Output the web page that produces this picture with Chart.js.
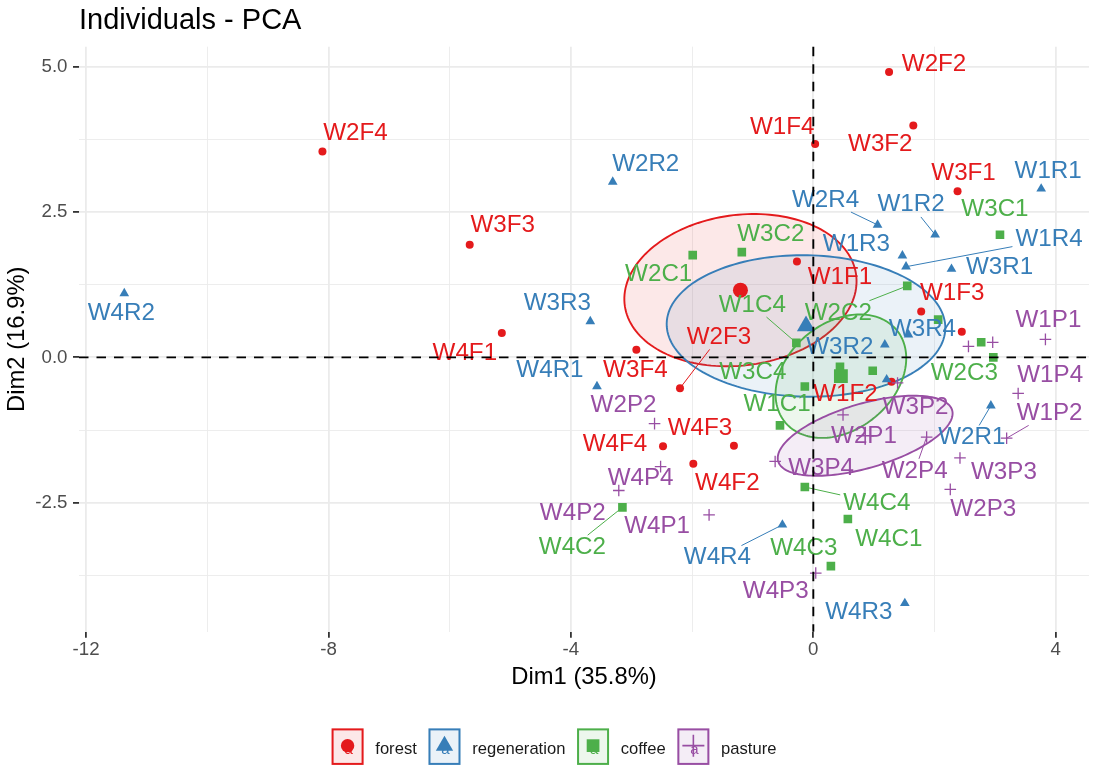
<!DOCTYPE html>
<html>
<head>
<meta charset="utf-8">
<title>Individuals - PCA</title>
<script src="https://cdn.jsdelivr.net/npm/chart.js@4.4.1/dist/chart.umd.min.js"></script>
<style>
  html, body { margin: 0; padding: 0; background: #fff; }
  canvas { display: block; }
</style>
</head>
<body>
<canvas id="pcaChart" width="1095" height="766"></canvas>
<script>
// ---- data ----
const groups = ['forest', 'regeneration', 'coffee', 'pasture'];
const groupColors = ['#E41A1C', '#377EB8', '#4DAF4A', '#984EA3'];

const forestNames = ['W2F4', 'W3F3', 'W2F2', 'W3F2', 'W1F4', 'W3F1', 'W1F1', 'W1F3', 'W2F1', 'W1F2', 'W4F1', 'W3F4', 'W2F3', 'W4F4', 'W4F3', 'W4F2'];
const forestX = [-8.10, -5.67, 1.25, 1.65, 0.03, 2.38, -0.27, 1.78, 2.45, 1.29, -5.14, -2.92, -2.20, -2.48, -1.31, -1.98];
const forestY = [3.54, 1.94, 4.91, 3.99, 3.67, 2.86, 1.65, 0.79, 0.44, -0.42, 0.42, 0.13, -0.53, -1.53, -1.52, -1.83];

const regenNames = ['W4R2', 'W2R2', 'W1R1', 'W2R4', 'W1R2', 'W1R4', 'W1R3', 'W3R1', 'W3R4', 'W3R2', 'W2R3', 'W2R1', 'W3R3', 'W4R1', 'W4R4', 'W4R3'];
const regenX = [-11.37, -3.31, 3.76, 1.06, 2.01, 1.53, 1.47, 2.28, 1.57, 1.18, 1.21, 2.93, -3.68, -3.57, -0.51, 1.51];
const regenY = [1.10, 3.02, 2.90, 2.28, 2.11, 1.56, 1.75, 1.52, 0.39, 0.22, -0.38, -0.83, 0.62, -0.50, -2.88, -4.23];

const coffeeNames = ['W3C1', 'W2C1', 'W3C2', 'W2C2', 'W2C4', 'W3C3', 'W2C3', 'W1C4', 'W1C2', 'W1C3', 'W3C4', 'W1C1', 'W4C4', 'W4C1', 'W4C3', 'W4C2'];
const coffeeX = [3.08, -1.99, -1.18, 1.55, 2.06, 2.77, 2.97, -0.28, 0.44, 0.98, -0.14, -0.55, -0.14, 0.57, 0.29, -3.15];
const coffeeY = [2.11, 1.76, 1.81, 1.23, 0.65, 0.26, 0.00, 0.25, -0.16, -0.23, -0.50, -1.17, -2.23, -2.78, -3.59, -2.58];

const pastureNames = ['W1P1', 'W1P3', 'W3P1', 'W1P4', 'W1P2', 'W2P4', 'W3P3', 'W2P3', 'W3P2', 'W2P1', 'W3P4', 'W2P2', 'W4P4', 'W4P2', 'W4P1', 'W4P3'];
const pastureX = [3.83, 2.56, 2.96, 3.38, 3.19, 1.87, 2.42, 2.26, 1.39, 0.49, -0.63, -2.62, -2.52, -3.21, -1.72, 0.04];
const pastureY = [0.31, 0.19, 0.26, -0.62, -1.39, -1.37, -1.73, -2.27, -0.44, -0.99, -1.79, -1.14, -1.88, -2.29, -2.71, -3.71];

// where ggrepel put each label, in px from its point (null = label dropped)
const forestLabelOffset = [[33, -18], [33, -19], [45, -8], [-33, 19], [-33, -17], [6, -18], [43, 16], [31, -18], null, [-46, 13], [-37, 20], [-1, 20], [39, -51], [-48, -2], [-34, -17], [34, 20]];
const regenLabelOffset = [[-3, 20], [33, -18], [7, -17], [-52, -25], [-24, -30], [143, -27], [-46, -11], [48, -2], [14, -5], [-45, 3], null, [-19, 32], [-33, -18], [-47, -16], [-65, 33], [-46, 9]];
const coffeeLabelOffset = [[-5, -25], [-34, 19], [29, -18], [-69, 27], null, null, [-29, 16], [-44, -38], null, null, [-52, -14], [-3, -21], [72, 16], [41, 20], [-27, -18], [-50, 40]];
const pastureLabelOffset = [[3, -19], null, null, [32, -18], [43, -25], [-12, 34], [44, 14], [33, 20], [18, 24], [21, 21], [46, 7], [-31, -18], [-20, 12], [-46, 23], [-52, 11], [-40, 18]];

// labels that get a connecting segment
const forestSegments = ['W2F3'];
const regenSegments = ['W2R4', 'W1R2', 'W1R4', 'W2R1', 'W4R4'];
const coffeeSegments = ['W2C2', 'W1C4', 'W4C4', 'W4C2'];
const pastureSegments = ['W1P2', 'W2P4'];

const xMajorTicks = [-12, -8, -4, 0, 4];
const xMinorTicks = [-10, -6, -2, 2];
const yMajorTicks = [-2.5, 0, 2.5, 5];
const yMinorTicks = [-3.75, -1.25, 1.25, 3.75];

const X_MIN = -12.117, X_MAX = 4.549;
const Y_MIN = -4.719, Y_MAX = 5.345;
const CHI2_95 = 5.991; // qchisq(0.95, 2), confidence ellipse of the mean

const FONT = "'Liberation Sans', Arial, Helvetica, sans-serif";
Chart.defaults.font.family = FONT;

const groupData = [
  { names: forestNames, x: forestX, y: forestY, offs: forestLabelOffset, segs: forestSegments, style: 'circle', radius: 4, meanRadius: 7.5, legendRadius: 6.7 },
  { names: regenNames, x: regenX, y: regenY, offs: regenLabelOffset, segs: regenSegments, style: 'triangle', radius: 5.6, meanRadius: 10.5, legendRadius: 10 },
  { names: coffeeNames, x: coffeeX, y: coffeeY, offs: coffeeLabelOffset, segs: coffeeSegments, style: 'rect', radius: 6.1, meanRadius: 9.8, legendRadius: 9 },
  { names: pastureNames, x: pastureX, y: pastureY, offs: pastureLabelOffset, segs: pastureSegments, style: 'cross', radius: 5.8, meanRadius: 9, legendRadius: 11 }
];
groupData.forEach((g, i) => { g.name = groups[i]; g.color = groupColors[i]; });

function mean(a) { return a.reduce((s, v) => s + v, 0) / a.length; }
function rgba(hex, a) {
  const n = parseInt(hex.slice(1), 16);
  return `rgba(${(n >> 16) & 255},${(n >> 8) & 255},${n & 255},${a})`;
}

function confEllipse(xs, ys, nPts) {
  const n = xs.length;
  const mx = mean(xs), my = mean(ys);
  let sxx = 0, syy = 0, sxy = 0;
  for (let i = 0; i < n; i++) {
    const dx = xs[i] - mx, dy = ys[i] - my;
    sxx += dx * dx; syy += dy * dy; sxy += dx * dy;
  }
  sxx /= (n - 1) * n; syy /= (n - 1) * n; sxy /= (n - 1) * n;
  const tr = sxx + syy, det = sxx * syy - sxy * sxy;
  const disc = Math.sqrt(Math.max(tr * tr / 4 - det, 0));
  const a = Math.sqrt((tr / 2 + disc) * CHI2_95);
  const b = Math.sqrt(Math.max(tr / 2 - disc, 0) * CHI2_95);
  const th = 0.5 * Math.atan2(2 * sxy, sxx - syy);
  const pts = [];
  for (let k = 0; k < nPts; k++) {
    const t = 2 * Math.PI * k / nPts;
    pts.push({
      x: mx + a * Math.cos(t) * Math.cos(th) - b * Math.sin(t) * Math.sin(th),
      y: my + a * Math.cos(t) * Math.sin(th) + b * Math.sin(t) * Math.cos(th)
    });
  }
  return pts;
}

const datasets = [];
groupData.forEach((g, i) => {
  datasets.push({
    label: g.name,
    data: g.x.map((v, k) => ({ x: v, y: g.y[k] })),
    pointStyle: g.style,
    pointRadius: g.radius,
    backgroundColor: g.color,
    borderColor: g.color,
    borderWidth: g.style === 'cross' ? 1.3 : 0,
    order: groupData.length - i
  });
});
groupData.forEach(g => {
  datasets.push({
    label: g.name + ' mean',
    data: [{ x: mean(g.x), y: mean(g.y) }],
    pointStyle: g.style,
    pointRadius: g.meanRadius,
    backgroundColor: g.color,
    borderColor: g.color,
    borderWidth: g.style === 'cross' ? 1.6 : 0,
    order: 0
  });
});

const ellipsePlugin = {
  id: 'ellipses',
  beforeDatasetsDraw(chart) {
    const { ctx, scales: { x, y } } = chart;
    ctx.save();
    groupData.forEach(g => {
      const pts = confEllipse(g.x, g.y, 160);
      ctx.beginPath();
      pts.forEach((p, k) => {
        const px = x.getPixelForValue(p.x), py = y.getPixelForValue(p.y);
        if (k === 0) ctx.moveTo(px, py); else ctx.lineTo(px, py);
      });
      ctx.closePath();
      ctx.fillStyle = rgba(g.color, 0.1);
      ctx.fill();
      ctx.strokeStyle = g.color;
      ctx.lineWidth = 1.9;
      ctx.stroke();
    });
    ctx.restore();
  }
};

const labelPlugin = {
  id: 'repelLabels',
  afterDatasetsDraw(chart) {
    const { ctx, chartArea, scales: { x, y } } = chart;
    const size = 24.2;
    ctx.save();
    ctx.font = `${size}px ${FONT}`;
    ctx.textAlign = 'center';
    ctx.textBaseline = 'middle';
    groupData.forEach(g => {
      g.names.forEach((name, k) => {
        const off = g.offs[k];
        if (!off) return;
        const px = x.getPixelForValue(g.x[k]), py = y.getPixelForValue(g.y[k]);
        const cx = px + off[0], cy = py + off[1];
        if (g.segs.includes(name)) {
          const hw = ctx.measureText(name).width / 2 + 3, hh = size * 0.38 + 3;
          const dx = px - cx, dy = py - cy;
          const t = Math.min(dx ? hw / Math.abs(dx) : Infinity, dy ? hh / Math.abs(dy) : Infinity);
          if (t < 1) {
            ctx.beginPath();
            ctx.moveTo(px, py);
            ctx.lineTo(cx + dx * t, cy + dy * t);
            ctx.strokeStyle = g.color;
            ctx.lineWidth = 1;
            ctx.stroke();
          }
        }
        ctx.fillStyle = g.color;
        ctx.fillText(name, cx, cy);
      });
    });
    // dashed zero lines on top
    ctx.strokeStyle = '#000';
    ctx.lineWidth = 1.9;
    ctx.setLineDash([9.5, 8]);
    const x0 = x.getPixelForValue(0), y0 = y.getPixelForValue(0);
    ctx.beginPath();
    ctx.moveTo(chartArea.left, y0); ctx.lineTo(chartArea.right, y0);
    ctx.moveTo(x0, chartArea.top); ctx.lineTo(x0, chartArea.bottom);
    ctx.stroke();
    ctx.restore();
  }
};

const titleLegendPlugin = {
  id: 'titleLegend',
  afterDraw(chart) {
    const { ctx, chartArea } = chart;
    ctx.save();
    ctx.fillStyle = '#000';
    ctx.font = `29px ${FONT}`;
    ctx.textAlign = 'left';
    ctx.textBaseline = 'alphabetic';
    ctx.fillText('Individuals - PCA', chartArea.left, 28.5);

    // legend
    const keyW = 32, keyH = 36.5, gap = 11.7, top = 728.4;
    ctx.font = `16.6px ${FONT}`;
    const widths = groups.map(t => ctx.measureText(t).width);
    const total = groups.length * keyW + widths.reduce((s, v) => s + v, 0) + gap * (2 * groups.length - 1);
    let lx = 554 - total / 2;
    const cy = top + keyH / 2;
    groupData.forEach((g, i) => {
      ctx.fillStyle = rgba(g.color, 0.1);
      ctx.fillRect(lx, top, keyW, keyH);
      ctx.strokeStyle = g.color;
      ctx.lineWidth = 2;
      ctx.strokeRect(lx + 1, top + 1, keyW - 2, keyH - 2);
      const kx = lx + keyW / 2;
      ctx.fillStyle = g.color;
      ctx.font = `15px ${FONT}`;
      ctx.textAlign = 'center';
      ctx.textBaseline = 'middle';
      ctx.fillText('a', kx + 1, cy + 3);
      ctx.lineWidth = 1.6;
      Chart.helpers.drawPoint(ctx, {
        pointStyle: g.style, rotation: 0, radius: g.legendRadius,
        borderWidth: g.style === 'cross' ? 1.6 : 0
      }, kx, cy - 1);
      ctx.fillStyle = '#1a1a1a';
      ctx.font = `16.6px ${FONT}`;
      ctx.textAlign = 'left';
      ctx.textBaseline = 'alphabetic';
      ctx.fillText(g.name, lx + keyW + gap, 754);
      lx += keyW + gap + widths[i] + gap;
    });
    ctx.restore();
  }
};

const isIn = (list, c) => !!(c.tick && list.includes(c.tick.value));

new Chart(document.getElementById('pcaChart').getContext('2d'), {
  type: 'scatter',
  data: { datasets: datasets },
  options: {
    responsive: false,
    animation: false,
    events: [],
    layout: { autoPadding: false, padding: { top: 46.7, right: 6, bottom: 74.4, left: 0 } },
    plugins: {
      legend: { display: false },
      tooltip: { enabled: false },
      title: { display: false }
    },
    scales: {
      x: {
        type: 'linear',
        min: X_MIN,
        max: X_MAX,
        afterBuildTicks: s => { s.ticks = xMajorTicks.concat(xMinorTicks).sort((a, b) => a - b).map(v => ({ value: v })); },
        afterFit: s => { s.height = 59.9; },
        border: { display: false },
        grid: {
          color: '#ebebeb',
          lineWidth: c => isIn(xMajorTicks, c) ? 1.8 : 0.9,
          tickColor: c => isIn(xMajorTicks, c) ? '#333333' : 'rgba(0,0,0,0)',
          tickWidth: 1.8,
          tickLength: 6
        },
        ticks: {
          autoSkip: false,
          maxRotation: 0,
          padding: 1,
          color: '#4d4d4d',
          font: { size: 18.7 },
          callback: v => xMajorTicks.includes(v) ? String(v) : ''
        },
        title: { display: true, text: 'Dim1 (35.8%)', color: '#000', font: { size: 23.8 }, padding: { top: 0, bottom: 0 } }
      },
      y: {
        type: 'linear',
        min: Y_MIN,
        max: Y_MAX,
        afterBuildTicks: s => { s.ticks = yMajorTicks.concat(yMinorTicks).sort((a, b) => a - b).map(v => ({ value: v })); },
        afterFit: s => { s.width = 79; },
        border: { display: false },
        grid: {
          color: '#ebebeb',
          lineWidth: c => isIn(yMajorTicks, c) ? 1.8 : 0.9,
          tickColor: c => isIn(yMajorTicks, c) ? '#333333' : 'rgba(0,0,0,0)',
          tickWidth: 1.8,
          tickLength: 6
        },
        ticks: {
          autoSkip: false,
          padding: 5.5,
          color: '#4d4d4d',
          font: { size: 18.7 },
          callback: v => yMajorTicks.includes(v) ? v.toFixed(1) : ''
        },
        title: { display: true, text: 'Dim2 (16.9%)', color: '#000', font: { size: 23.8 }, padding: { top: 3, bottom: 0 } }
      }
    }
  },
  plugins: [ellipsePlugin, labelPlugin, titleLegendPlugin]
});
</script>
</body>
</html>
